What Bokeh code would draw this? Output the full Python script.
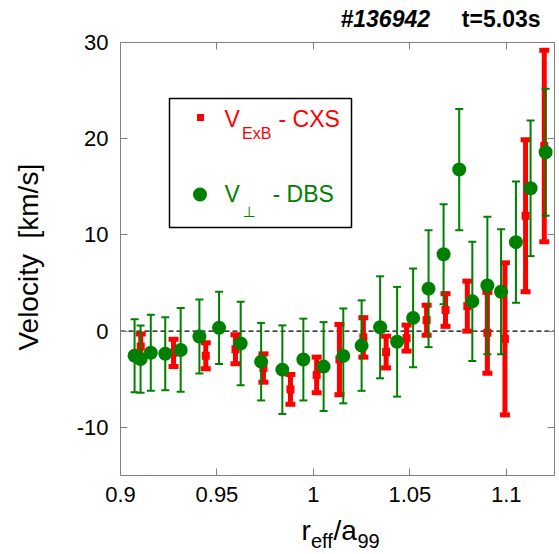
import math
from bokeh.plotting import figure
from bokeh.models import Range1d, LinearAxis, FixedTicker, Label, BoxAnnotation
from bokeh.embed import file_html
from bokeh.resources import INLINE

# ---- data ----
cxs_r = [0.9105, 0.9275, 0.9442, 0.9596, 0.9741, 0.9881, 1.0017, 1.0135, 1.0259,
         1.0377, 1.0483, 1.0587, 1.0685, 1.0798, 1.0902, 1.0993, 1.1100, 1.1197]
cxs_v = [-1.6, -2.25, -2.55, -1.88, -3.83, -6.05, -4.55, -2.95, -0.65,
         -2.17, -0.72, 1.14, 2.2, 2.6, -0.17, -0.8, 12.0, 19.25]
cxs_err = [1.3, 1.42, 1.35, 1.5, 1.47, 1.55, 1.85, 3.65, 2.05,
           1.65, 1.35, 1.56, 1.7, 2.6, 4.2, 7.9, 7.9, 9.95]

dbs_r = [0.9073, 0.9104, 0.9157, 0.9232, 0.9312, 0.9409, 0.9511, 0.9623, 0.9729,
         0.9839, 0.9948, 1.0053, 1.0155, 1.0250, 1.0346, 1.0434, 1.0517, 1.0597,
         1.0675, 1.0756, 1.0824, 1.0902, 1.0973, 1.1050, 1.1126, 1.1204]
dbs_v = [-2.55, -2.9, -2.25, -2.35, -1.95, -0.55, 0.35, -1.28, -3.17,
         -4.0, -2.95, -3.68, -2.57, -1.5, 0.4, -1.1, 1.38, 4.42,
         8.0, 16.8, 3.1, 4.75, 4.1, 9.25, 14.85, 18.6]
dbs_err = [3.8, 3.5, 3.95, 3.8, 4.35, 3.85, 3.75, 4.33, 4.03,
           4.6, 4.25, 4.62, 4.93, 4.7, 5.3, 5.7, 5.13, 6.08,
           5.2, 6.3, 6.2, 7.15, 6.5, 6.3, 7.05, 6.6]

x_ticks = [0.9, 0.95, 1.0, 1.05, 1.1]
x_tick_labels = ["0.9", "0.95", "1", "1.05", "1.1"]
y_ticks = [-10, 0, 10, 20, 30]
y_tick_labels = ["-10", "0", "10", "20", "30"]

RED = "#ff0000"
GREEN = "#008000"
GRAY = "#808080"
FONT = "Liberation Sans"

# data window of the axes box
X0, X1 = 0.9, 1.125
Y0, Y1 = -15, 30
# where that box sits on the 559x554 canvas (pixels)
BOX_L, BOX_R, BOX_T, BOX_B = 120, 554, 42, 475
W, H = 559, 554

def xd(px):
    return X0 + (px - BOX_L) * (X1 - X0) / (BOX_R - BOX_L)

def yd(py):
    return Y1 - (py - BOX_T) * (Y1 - Y0) / (BOX_B - BOX_T)

p = figure(width=W, height=H, x_range=Range1d(xd(0), xd(W)), y_range=Range1d(yd(H), yd(0)),
           output_backend="svg", toolbar_location=None, title=None,
           min_border_left=0, min_border_right=0, min_border_top=0, min_border_bottom=0)
p.grid.visible = False
p.outline_line_color = None
p.background_fill_color = "white"
p.border_fill_color = "white"

def style_axis(ax, ticks, labels=None):
    ax.ticker = FixedTicker(ticks=ticks)
    ax.major_tick_in = 7
    ax.major_tick_out = 0
    ax.minor_tick_line_color = None
    ax.axis_line_color = GRAY
    ax.axis_line_width = 1
    ax.major_tick_line_color = GRAY
    ax.major_label_text_font = FONT
    ax.major_label_text_font_size = "22px"
    if labels is None:
        ax.major_label_text_color = None
    else:
        ax.major_label_text_color = "black"
        ax.major_label_overrides = {t: s for t, s in zip(ticks, labels)}

bottom = p.xaxis[0]
bottom.fixed_location = Y0
bottom.bounds = (X0, X1)
style_axis(bottom, x_ticks, x_tick_labels)
bottom.major_label_standoff = 11

left = p.yaxis[0]
left.fixed_location = X0
left.bounds = (Y0, Y1)
style_axis(left, y_ticks, y_tick_labels)
left.major_label_standoff = 12

top_ax = LinearAxis(fixed_location=Y1, bounds=(X0, X1))
style_axis(top_ax, x_ticks)
p.add_layout(top_ax, "above")
right_ax = LinearAxis(fixed_location=X1, bounds=(Y0, Y1))
style_axis(right_ax, y_ticks)
p.add_layout(right_ax, "right")

# zero reference line across the axes box
p.segment(x0=[X0], y0=[0], x1=[X1], y1=[0], line_color="black",
          line_dash="5 3", line_width=1.3)

# ---- CXS (red, thick error bars) ----
lo = [v - e for v, e in zip(cxs_v, cxs_err)]
hi = [v + e for v, e in zip(cxs_v, cxs_err)]
p.segment(x0=cxs_r, y0=lo, x1=cxs_r, y1=hi, line_color=RED, line_width=5)
p.rect(x=cxs_r + cxs_r, y=lo + hi, width=10, height=5, width_units="screen",
       height_units="screen", fill_color=RED, line_color=None)
p.scatter(x=cxs_r, y=cxs_v, marker="square", size=8, fill_color=RED, line_color=None)

# ---- DBS (green circles, thin error bars) ----
glo = [v - e for v, e in zip(dbs_v, dbs_err)]
ghi = [v + e for v, e in zip(dbs_v, dbs_err)]
p.segment(x0=dbs_r, y0=glo, x1=dbs_r, y1=ghi, line_color=GREEN, line_width=2)
p.rect(x=dbs_r + dbs_r, y=glo + ghi, width=8, height=2, width_units="screen",
       height_units="screen", fill_color=GREEN, line_color=None)
p.scatter(x=dbs_r, y=dbs_v, marker="circle", size=14, fill_color=GREEN, line_color=None)

BASE_K = 0.37  # measured offset of the rendered baseline, in em

def lab(text, px, py, size, color="black", style="normal", font=FONT,
        align="left", angle=0.0):
    # (px, py): wanted baseline start point on the canvas
    if angle == 0.0:
        py = py - BASE_K * size
    else:
        px = px - BASE_K * size
    p.add_layout(Label(x=xd(px), y=yd(py), text=text, text_font=font,
                       text_font_size=f"{size}px", text_color=color,
                       text_font_style=style, text_align=align,
                       text_baseline="alphabetic", angle=angle))

# ---- legend ----
p.add_layout(BoxAnnotation(left=xd(169), right=xd(351), top=yd(98), bottom=yd(227),
                           fill_color="white", fill_alpha=1.0, line_color="black",
                           line_width=1.5, line_alpha=1.0, level="underlay"))
p.scatter(x=[xd(200)], y=[yd(117)], marker="square", size=7, fill_color=RED, line_color=None)
p.scatter(x=[xd(199.5)], y=[yd(194)], marker="circle", size=14, fill_color=GREEN, line_color=None)
lab("V", 224, 126.7, 23, RED)
lab("ExB", 241.5, 138.5, 16, RED)
lab("- CXS", 278, 126.7, 23, RED)
lab("V", 224, 201.7, 23, GREEN)
lab("\u22a5", 242, 216.7, 15, GREEN, font="DejaVu Sans")
lab("- DBS", 272, 201.7, 23, GREEN)

# ---- title texts ----
lab("#136942", 340, 27, 23, style="bold italic")
lab("t=5.03s", 540, 27, 23, style="bold", align="right")

# ---- axis labels ----
lab("Velocity\u00a0 [km/s]", 38, 256.7, 28, align="center", angle=math.pi / 2)
lab("r", 301, 540, 28)
lab("eff", 310.5, 548, 20)
lab("/a", 333, 540, 28)
lab("99", 357, 548, 20)

open("out.html", "w").write(file_html(p, INLINE))
